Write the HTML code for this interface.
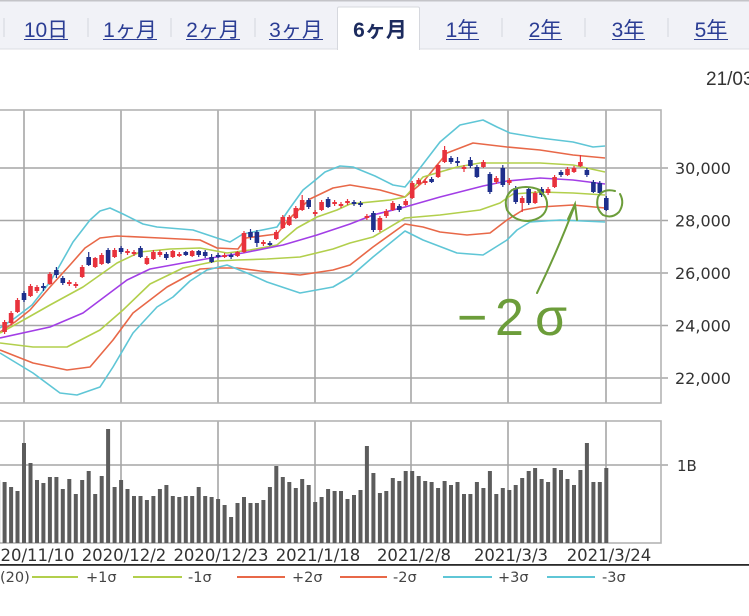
<!DOCTYPE html>
<html><head><meta charset="utf-8"><style>
html,body{margin:0;padding:0;background:#fff;overflow:hidden}
svg{display:block}
.t{font-family:"Liberation Sans","Noto Sans CJK JP",sans-serif;font-size:21px;fill:#2b3d94;text-anchor:middle}
.ax{font-family:"DejaVu Sans","Liberation Sans",sans-serif;fill:#333}
</style></head><body>
<svg width="749" height="616" viewBox="0 0 749 616" xmlns="http://www.w3.org/2000/svg">
<rect width="749" height="616" fill="#fff"/>
<!-- tab bar -->
<rect x="0" y="0" width="749" height="49" fill="#f1f2f7"/>
<rect x="0" y="0" width="749" height="1.5" fill="#c4c4c8"/>
<rect x="0" y="48.5" width="749" height="1" fill="#dcdde3"/>
<g stroke="#d3d5dc" stroke-width="1">
<line x1="4" y1="18" x2="4" y2="37"/><line x1="88" y1="18" x2="88" y2="37"/><line x1="171" y1="18" x2="171" y2="37"/><line x1="255" y1="18" x2="255" y2="37"/><line x1="502" y1="18" x2="502" y2="37"/><line x1="585" y1="18" x2="585" y2="37"/><line x1="668" y1="18" x2="668" y2="37"/>
</g>
<path d="M337.5 50V8.5Q337.5 7 339 7H418Q419.5 7 419.5 8.5V50" fill="#fff" stroke="#d6d8de" stroke-width="1"/>
<text class="t" x="46" y="37">10日</text>
<text class="t" x="130" y="37">1ヶ月</text>
<text class="t" x="213" y="37">2ヶ月</text>
<text class="t" x="296" y="37">3ヶ月</text>
<text class="t" x="380" y="37" style="font-weight:bold;fill:#1c2b5e">6ヶ月</text>
<text class="t" x="462" y="37">1年</text>
<text class="t" x="545" y="37">2年</text>
<text class="t" x="628" y="37">3年</text>
<text class="t" x="711" y="37">5年</text>
<g stroke="#2b3d94" stroke-width="1">
<line x1="24" y1="39.5" x2="68" y2="39.5"/><line x1="103" y1="39.5" x2="157" y2="39.5"/><line x1="186" y1="39.5" x2="240" y2="39.5"/><line x1="269" y1="39.5" x2="323" y2="39.5"/><line x1="446" y1="39.5" x2="479" y2="39.5"/><line x1="529" y1="39.5" x2="562" y2="39.5"/><line x1="612" y1="39.5" x2="645" y2="39.5"/><line x1="694" y1="39.5" x2="728" y2="39.5"/>
</g>
<text x="706" y="85" style="font-family:'Liberation Sans',sans-serif;font-size:19px;fill:#333">21/03/24</text>

<!-- price grid -->
<g stroke="#a6a6a6" stroke-width="1.6" fill="none">
<line x1="0" y1="168" x2="668" y2="168"/><line x1="0" y1="220.5" x2="668" y2="220.5"/><line x1="0" y1="273" x2="668" y2="273"/><line x1="0" y1="325.5" x2="668" y2="325.5"/><line x1="0" y1="378" x2="668" y2="378"/>
<line x1="24" y1="110" x2="24" y2="403"/><line x1="121" y1="110" x2="121" y2="403"/><line x1="218" y1="110" x2="218" y2="403"/><line x1="315" y1="110" x2="315" y2="403"/><line x1="411" y1="110" x2="411" y2="403"/><line x1="508" y1="110" x2="508" y2="403"/><line x1="606" y1="110" x2="606" y2="403"/>
<rect x="-5" y="110" width="666" height="293" stroke="#b4b4b4"/>
<line x1="0" y1="465" x2="668" y2="465"/>
<line x1="24" y1="421" x2="24" y2="543"/><line x1="121" y1="421" x2="121" y2="543"/><line x1="218" y1="421" x2="218" y2="543"/><line x1="315" y1="421" x2="315" y2="543"/><line x1="411" y1="421" x2="411" y2="543"/><line x1="508" y1="421" x2="508" y2="543"/><line x1="606" y1="421" x2="606" y2="543"/>
<rect x="-5" y="421" width="666" height="122" stroke="#b4b4b4"/>
</g>
<g class="ax" style="font-size:16px">
<text x="675" y="174">30,000</text><text x="675" y="226.5">28,000</text><text x="675" y="279">26,000</text><text x="675" y="331.5">24,000</text><text x="675" y="384">22,000</text>
<text x="677" y="471" style="font-size:15px">1B</text>
</g>

<!-- bands -->
<g fill="none" stroke-width="1.6" stroke-linejoin="round">
<polyline stroke="#5fc6d6" points="0,328 15,318 32,305 50,282 60,265 73,242 90,220 100,211 110,208 123,214 143,224 157,227 193,230 217,238 230,242 243,234 277,227 290,208 303,190 313,182 325,172 340,166 353,167 375,176 393,185 405,187 417,172 440,142 460,125 483,120 497,127 510,133 540,138 573,142 593,147 605,146"/>
<polyline stroke="#e86848" points="0,332 15,322 30,310 50,287 70,265 85,248 100,238 117,236 160,238 200,240 217,248 238,249 246,238 277,234 290,218 310,199 333,188 350,185 380,190 405,197 423,182 447,153 473,143 507,147 540,150 573,155 605,158"/>
<polyline stroke="#b2cf4c" points="0,333 20,322 50,305 83,287 117,263 140,252 170,249 200,248 227,253 250,250 277,245 297,228 317,217 337,210 350,204 390,200 405,197 423,177 457,167 480,163 540,163 573,165 605,172"/>
<polyline stroke="#a23ee6" points="0,338 50,327 83,313 127,280 150,269 183,263 217,257 243,253 283,245 317,235 350,224 373,215 405,207 440,197 483,186 507,181 540,178 573,180 605,184"/>
<polyline stroke="#b2cf4c" points="0,343 33,347 67,347 100,330 123,310 150,284 183,268 217,261 237,260 267,259 300,257 333,249 350,243 373,237 405,218 440,215 480,210 500,203 513,194 540,192 573,193 605,195"/>
<polyline stroke="#e86848" points="0,350 33,363 67,370 90,367 113,340 133,313 167,287 200,269 217,268 237,268 260,271 300,275 333,270 350,265 373,247 405,224 423,227 440,232 467,235 490,233 507,220 523,210 540,207 573,205 605,208"/>
<polyline stroke="#5fc6d6" points="0,353 33,373 60,393 77,395 100,387 113,367 133,333 157,307 173,297 190,281 207,270 227,265 247,273 267,282 300,293 333,287 350,277 373,257 405,231 423,240 457,253 483,255 507,240 517,230 530,222 560,220 605,222"/>
</g>

<!-- candles -->
<path stroke="#e8323c" stroke-width="1.2" fill="none" d="M4.6 320V334M11.1 311V325M17.5 298V313M30.5 284V297M37 285V293M49.9 272V285M69.3 280V286M75.8 282V288M82.2 265V278M95.2 257V268M101.7 253V265M114.6 248V258M127.5 249V255M134 250V256M146.9 256V265M153.4 250V260M159.9 250V257M172.8 250V258M179.3 252V257M192.2 250V257M224.6 253V258M237.5 251V257M244 231V253M263.4 240V246M276.3 230V240M282.8 215V229M289.3 215V226M295.8 206V219M302.2 195V211M315.2 210V216M321.6 200V211M334.6 200V206M341 202V208M347.5 199V205M366.9 214V220M379.9 216V232M386.3 209V218M392.8 201V211M405.7 199V206M412.2 181V199M418.7 178V185M425.2 179V185M438.1 164V178M444.6 146V163M464 165V172M483.4 160V168M496.3 176V184M509.3 178V185M522.2 196V212M535.1 191V204M548.1 187V195M554.6 175V188M567.5 167V176M574 166V173M580.4 155V167"/>
<path fill="#e8323c" d="M2.3 322h4.6V332h-4.6zM8.8 313h4.6V323h-4.6zM15.2 300h4.6V312h-4.6zM28.2 286h4.6V296h-4.6zM34.6 287h4.6V291h-4.6zM47.6 274h4.6V284h-4.6zM67 282h4.6V284h-4.6zM73.5 284h4.6V286h-4.6zM79.9 267h4.6V277h-4.6zM92.9 258h4.6V267h-4.6zM99.3 255h4.6V264h-4.6zM112.3 250h4.6V257h-4.6zM125.2 251h4.6V253h-4.6zM131.7 252h4.6V254h-4.6zM144.6 258h4.6V264h-4.6zM151.1 252h4.6V259h-4.6zM157.6 252h4.6V255h-4.6zM170.5 251h4.6V257h-4.6zM177 254h4.6V256h-4.6zM189.9 251h4.6V256h-4.6zM222.3 255h4.6V257h-4.6zM235.2 252h4.6V256h-4.6zM241.7 233h4.6V252h-4.6zM261.1 242h4.6V244h-4.6zM274 232h4.6V239h-4.6zM280.5 217h4.6V228h-4.6zM287 217h4.6V225h-4.6zM293.5 208h4.6V218h-4.6zM299.9 200h4.6V210h-4.6zM312.9 212h4.6V214h-4.6zM319.3 202h4.6V210h-4.6zM332.3 202h4.6V204h-4.6zM338.7 204h4.6V206h-4.6zM345.2 201h4.6V203h-4.6zM364.6 216h4.6V218h-4.6zM377.6 218h4.6V230h-4.6zM384 211h4.6V216h-4.6zM390.5 203h4.6V210h-4.6zM403.4 201h4.6V205h-4.6zM409.9 183h4.6V198h-4.6zM416.4 180h4.6V184h-4.6zM422.9 181h4.6V183h-4.6zM435.8 165h4.6V177h-4.6zM442.3 150h4.6V162h-4.6zM461.7 167h4.6V169h-4.6zM481.1 162h4.6V167h-4.6zM494 178h4.6V182h-4.6zM507 180h4.6V183h-4.6zM519.9 198h4.6V203h-4.6zM532.8 193h4.6V203h-4.6zM545.8 189h4.6V193h-4.6zM552.3 177h4.6V187h-4.6zM565.2 169h4.6V175h-4.6zM571.7 168h4.6V172h-4.6zM578.1 162h4.6V166h-4.6z"/>
<path stroke="#1e2f8c" stroke-width="1.2" fill="none" d="M24 291V302M43.4 283V291M56.4 267V278M62.8 276V285M88.7 252V266M108.1 248V264M121.1 246V254M140.5 246V258M166.4 252V260M185.8 251V256M198.7 250V257M205.2 250V258M211.6 254V263M218.1 253V258M231.1 253V259M250.5 229V240M256.9 230V247M269.9 241V246M308.7 198V209M328.1 197V208M354 200V206M360.5 201V207M373.4 211V232M399.3 204V212M431.6 177V183M451 156V164M457.5 157V166M470.4 157V168M476.9 165V178M489.9 172V194M502.8 165V187M515.7 186V204M528.7 187V205M541.6 187V197M561 170V177M586.9 168V177M593.4 180V193M599.8 181V195M606.3 196V211"/>
<path fill="#1e2f8c" d="M21.7 293h4.6V300h-4.6zM41.1 286h4.6V288h-4.6zM54.1 270h4.6V275h-4.6zM60.5 278h4.6V283h-4.6zM86.4 257h4.6V265h-4.6zM105.8 250h4.6V263h-4.6zM118.8 248h4.6V252h-4.6zM138.2 248h4.6V257h-4.6zM164 254h4.6V258h-4.6zM183.5 252h4.6V255h-4.6zM196.4 251h4.6V255h-4.6zM202.9 252h4.6V256h-4.6zM209.3 257h4.6V262h-4.6zM215.8 255h4.6V257h-4.6zM228.8 255h4.6V257h-4.6zM248.2 232h4.6V237h-4.6zM254.6 232h4.6V243h-4.6zM267.6 243h4.6V245h-4.6zM306.4 200h4.6V207h-4.6zM325.8 199h4.6V207h-4.6zM351.7 202h4.6V204h-4.6zM358.2 203h4.6V205h-4.6zM371.1 213h4.6V230h-4.6zM397 206h4.6V210h-4.6zM429.3 179h4.6V182h-4.6zM448.7 158h4.6V162h-4.6zM455.2 161h4.6V163h-4.6zM468.1 160h4.6V166h-4.6zM474.6 167h4.6V177h-4.6zM487.6 174h4.6V192h-4.6zM500.5 168h4.6V185h-4.6zM513.4 188h4.6V202h-4.6zM526.4 189h4.6V203h-4.6zM539.3 189h4.6V195h-4.6zM558.7 172h4.6V175h-4.6zM584.6 170h4.6V175h-4.6zM591.1 182h4.6V192h-4.6zM597.5 183h4.6V193h-4.6zM604 198h4.6V210h-4.6z"/>

<!-- volume -->
<path fill="#5c5c5c" d="M-3.9 543V480h4V543zM2.6 543V482h4V543zM9.1 543V487h4V543zM15.5 543V491h4V543zM22 543V443h4V543zM28.5 543V463h4V543zM35 543V480h4V543zM41.4 543V483h4V543zM47.9 543V477h4V543zM54.4 543V477h4V543zM60.8 543V489h4V543zM67.3 543V479h4V543zM73.8 543V494h4V543zM80.2 543V480h4V543zM86.7 543V471h4V543zM93.2 543V494h4V543zM99.7 543V476h4V543zM106.1 543V429h4V543zM112.6 543V487h4V543zM119.1 543V480h4V543zM125.5 543V489h4V543zM132 543V496h4V543zM138.5 543V496h4V543zM144.9 543V500h4V543zM151.4 543V496h4V543zM157.9 543V489h4V543zM164.4 543V485h4V543zM170.8 543V496h4V543zM177.3 543V497h4V543zM183.8 543V496h4V543zM190.2 543V496h4V543zM196.7 543V487h4V543zM203.2 543V496h4V543zM209.6 543V497h4V543zM216.1 543V499h4V543zM222.6 543V505h4V543zM229.1 543V517h4V543zM235.5 543V503h4V543zM242 543V497h4V543zM248.5 543V503h4V543zM254.9 543V503h4V543zM261.4 543V500h4V543zM267.9 543V487h4V543zM274.3 543V466h4V543zM280.8 543V477h4V543zM287.3 543V482h4V543zM293.8 543V488h4V543zM300.2 543V479h4V543zM306.7 543V485h4V543zM313.2 543V502h4V543zM319.6 543V497h4V543zM326.1 543V489h4V543zM332.6 543V491h4V543zM339 543V491h4V543zM345.5 543V499h4V543zM352 543V495h4V543zM358.5 543V490h4V543zM364.9 543V446h4V543zM371.4 543V473h4V543zM377.9 543V493h4V543zM384.3 543V491h4V543zM390.8 543V478h4V543zM397.3 543V481h4V543zM403.7 543V471h4V543zM410.2 543V471h4V543zM416.7 543V476h4V543zM423.2 543V481h4V543zM429.6 543V482h4V543zM436.1 543V488h4V543zM442.6 543V481h4V543zM449 543V485h4V543zM455.5 543V482h4V543zM462 543V494h4V543zM468.4 543V494h4V543zM474.9 543V482h4V543zM481.4 543V488h4V543zM487.9 543V471h4V543zM494.3 543V494h4V543zM500.8 543V488h4V543zM507.3 543V490h4V543zM513.7 543V485h4V543zM520.2 543V478h4V543zM526.7 543V471h4V543zM533.1 543V468h4V543zM539.6 543V479h4V543zM546.1 543V482h4V543zM552.6 543V468h4V543zM559 543V470h4V543zM565.5 543V479h4V543zM572 543V485h4V543zM578.4 543V470h4V543zM584.9 543V443h4V543zM591.4 543V482h4V543zM597.8 543V482h4V543zM604.3 543V468h4V543z"/>

<!-- date labels -->
<g class="ax" style="font-size:16.5px" text-anchor="middle">
<text x="27" y="561">2020/11/10</text><text x="124" y="561">2020/12/2</text><text x="221" y="561">2020/12/23</text><text x="318" y="561">2021/1/18</text><text x="414" y="561">2021/2/8</text><text x="511" y="561">2021/3/3</text><text x="609" y="561">2021/3/24</text>
</g>
<rect x="0" y="564" width="749" height="1.8" fill="#2a2a2a"/>

<!-- legend -->
<g stroke-width="2">
<line x1="32" y1="577" x2="78" y2="577" stroke="#b2cf4c"/><line x1="133" y1="577" x2="182" y2="577" stroke="#b2cf4c"/>
<line x1="237" y1="577" x2="285" y2="577" stroke="#e86848"/><line x1="340" y1="577" x2="387" y2="577" stroke="#e86848"/>
<line x1="443" y1="577" x2="492" y2="577" stroke="#5fc6d6"/><line x1="547" y1="577" x2="595" y2="577" stroke="#5fc6d6"/>
</g>
<g class="ax" style="font-size:14.5px;fill:#444">
<text x="0" y="582">(20)</text><text x="86" y="582">+1σ</text><text x="188" y="582">-1σ</text><text x="292" y="582">+2σ</text><text x="393" y="582">-2σ</text><text x="498" y="582">+3σ</text><text x="602" y="582">-3σ</text>
</g>

<!-- annotations -->
<g fill="none" stroke="#6c9d3a" stroke-width="2" stroke-linecap="round">
<path d="M540 190 Q526 184 512 190 Q503 198 507 210 Q514 221 528 221 Q545 219 547 206 Q548 196 538 190"/>
<path d="M615 191 Q603 188 598 197 Q595 208 603 215 Q612 219 619 212 Q625 203 620 194"/>
<path d="M537 293 Q557 252 575 205"/>
<path d="M568 219 L575 204 L577 220"/>
</g>
<g style="font-family:'Liberation Sans',sans-serif;font-size:52px;fill:#6c9d3a">
<text x="457" y="335">−</text><text x="495" y="335">2</text><text x="535" y="335">σ</text>
</g>
</svg>
</body></html>
